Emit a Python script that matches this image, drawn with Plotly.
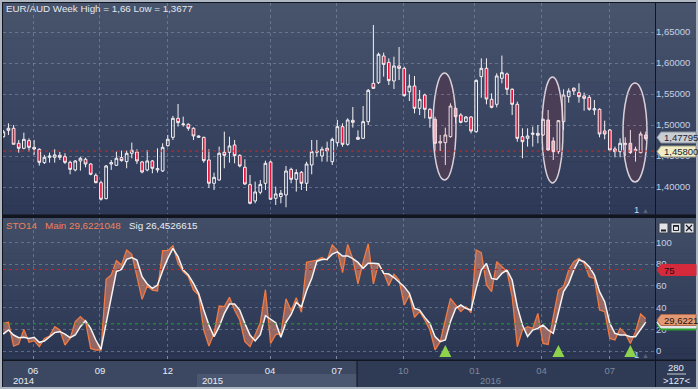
import plotly.graph_objects as go

# ---------------- data ----------------
open_ = [1.4810,1.4914,1.4947,1.4705,1.4624,1.4748,1.4640,1.4608,1.4393,1.4479,
         1.4479,1.4511,1.4490,1.4398,1.4275,1.4420,1.4447,1.4371,1.4189,1.4070,
         1.3812,1.4371,1.4350,1.4474,1.4409,1.4544,1.4565,1.4404,1.4275,1.4420,
         1.4275,1.4259,1.4667,1.4801,1.5108,1.5005,1.5011,1.4947,1.4801,1.4801,
         1.4436,1.4060,1.4113,1.4560,1.4560,1.4678,1.4511,1.4318,1.4038,1.3775,
         1.3915,1.4060,1.4404,1.3818,1.3845,1.3872,1.4285,1.4124,1.4237,1.4060,
         1.4355,1.4560,1.4500,1.4624,1.4409,1.4715,1.4973,1.4688,1.5075,1.4801,
         1.4785,1.5054,1.5672,1.5683,1.6113,1.6011,1.5710,1.5952,1.5914,1.5537,
         1.5629,1.5269,1.5484,1.5253,1.5091,1.4710,1.4715,1.4812,1.5269,1.5161,
         1.5054,1.5129,1.4892,1.5780,1.5914,1.5414,1.5334,1.5753,1.5823,1.5576,
         1.5334,1.4812,1.4785,1.4850,1.4866,1.4839,1.5081,1.4742,1.4570,1.5054,
         1.5457,1.5592,1.5522,1.5468,1.5446,1.5242,1.5253,1.4903,1.4920,1.4613,
         1.4570,1.4683,1.4705,1.4608,1.4554,1.4839]
high = [1.4920,1.5027,1.5000,1.4759,1.4877,1.4785,1.4759,1.4624,1.4517,1.4554,
        1.4608,1.4565,1.4544,1.4425,1.4436,1.4490,1.4474,1.4382,1.4221,1.4103,
        1.4355,1.4436,1.4570,1.4587,1.4587,1.4716,1.4608,1.4420,1.4597,1.4436,
        1.4624,1.4705,1.4839,1.5146,1.5339,1.5135,1.5027,1.4963,1.4828,1.4812,
        1.4608,1.4232,1.4651,1.4893,1.4812,1.4759,1.4527,1.4447,1.4194,1.4087,
        1.4113,1.4425,1.4425,1.4006,1.3952,1.4339,1.4312,1.4285,1.4258,1.4409,
        1.4759,1.4759,1.4651,1.4731,1.4796,1.5081,1.5027,1.5108,1.5290,1.4914,
        1.5306,1.5581,1.6613,1.6167,1.6167,1.6075,1.6102,1.6258,1.5941,1.5817,
        1.5790,1.5564,1.5505,1.5269,1.5134,1.4839,1.4957,1.5350,1.5279,1.5188,
        1.5145,1.5145,1.5736,1.6075,1.6075,1.5511,1.5834,1.6120,1.5844,1.5592,
        1.5377,1.4947,1.4947,1.4974,1.5000,1.5108,1.5242,1.4801,1.5081,1.5576,
        1.5592,1.5608,1.5672,1.5522,1.5484,1.5403,1.5269,1.5070,1.4936,1.4651,
        1.4785,1.4801,1.4920,1.4651,1.4893,1.4893]
low = [1.4800,1.4839,1.4689,1.4554,1.4608,1.4570,1.4517,1.4345,1.4371,1.4393,
       1.4393,1.4436,1.4371,1.4205,1.4253,1.4264,1.4318,1.4189,1.4060,1.3780,
       1.3802,1.4275,1.4339,1.4409,1.4302,1.4463,1.4371,1.4221,1.4253,1.4221,
       1.4232,1.4242,1.4651,1.4759,1.4974,1.4974,1.4909,1.4759,1.4796,1.4393,
       1.3984,1.3952,1.4103,1.4302,1.4393,1.4382,1.4318,1.4033,1.3721,1.3737,
       1.3882,1.3952,1.3791,1.3710,1.3737,1.3673,1.4060,1.3925,1.3952,1.3936,
       1.4205,1.4490,1.4409,1.4409,1.4355,1.4650,1.4650,1.4667,1.4957,1.4758,
       1.4774,1.5000,1.5581,1.5661,1.5780,1.5645,1.5581,1.5726,1.5457,1.5387,
       1.5188,1.5161,1.5107,1.4957,1.4570,1.4580,1.4355,1.4796,1.5027,1.5027,
       1.5043,1.4865,1.4876,1.5441,1.5333,1.5269,1.5285,1.5672,1.5484,1.5162,
       1.4731,1.4463,1.4651,1.4651,1.4705,1.4823,1.4586,1.4436,1.4533,1.4920,
       1.5360,1.5484,1.5360,1.5231,1.5231,1.5162,1.4801,1.4769,1.4570,1.4479,
       1.4479,1.4500,1.4533,1.4409,1.4543,1.4748]
close = [1.4890,1.4947,1.4689,1.4624,1.4769,1.4640,1.4613,1.4398,1.4479,1.4500,
         1.4517,1.4479,1.4398,1.4285,1.4420,1.4463,1.4371,1.4205,1.4070,1.3802,
         1.4339,1.4393,1.4463,1.4425,1.4544,1.4592,1.4420,1.4242,1.4420,1.4302,
         1.4296,1.4640,1.4769,1.5108,1.5038,1.5016,1.4947,1.4823,1.4823,1.4425,
         1.4060,1.4156,1.4544,1.4511,1.4662,1.4506,1.4339,1.4049,1.3737,1.3920,
         1.4043,1.4382,1.3802,1.3888,1.3898,1.4258,1.4124,1.4232,1.4060,1.4371,
         1.4570,1.4581,1.4608,1.4581,1.4769,1.4973,1.4688,1.5081,1.5043,1.4769,
         1.5054,1.5559,1.5591,1.6140,1.5978,1.5715,1.5952,1.5914,1.5473,1.5629,
         1.5269,1.5414,1.5253,1.5107,1.4704,1.4731,1.4839,1.5306,1.5134,1.5043,
         1.5129,1.4903,1.5720,1.5914,1.5419,1.5285,1.5791,1.5844,1.5576,1.5334,
         1.4785,1.4731,1.4823,1.4866,1.4834,1.5092,1.4597,1.4570,1.5070,1.5484,
         1.5549,1.5549,1.5457,1.5430,1.5253,1.5264,1.4855,1.4855,1.4597,1.4570,
         1.4705,1.4705,1.4554,1.4586,1.4855,1.47795]

sto_main = [25.4,26.4,4.6,6.4,19.9,8.0,9.5,4.0,11.6,13.8,
            22.4,19.3,5.5,11.6,27.0,31.6,27.0,2.4,0.9,0.9,
            65.9,69.9,83.1,79.1,92.9,88.9,68.4,47.5,59.8,56.1,
            55.2,92.3,92.3,96.9,80.6,73.0,68.4,56.1,51.5,19.3,
            4.6,16.2,41.4,40.8,49.4,37.7,28.5,8.6,4.0,15.2,
            25.9,56.4,6.9,15.0,15.9,48.0,37.0,49.1,35.6,81.7,
            82.6,83.6,86.1,83.6,97.6,92.3,72.1,98.1,84.7,61.8,
            81.8,98.7,61.8,80.4,71.9,60.2,70.7,65.3,42.3,51.5,
            30.9,36.2,28.5,19.3,1.0,8.6,28.5,48.4,42.3,36.2,
            40.8,35.2,92.9,90.5,60.7,54.6,82.2,77.6,73.0,50.0,
            3.9,19.3,22.4,20.8,34.6,7.0,6.1,31.6,56.1,59.2,
            74.5,82.2,85.2,80.6,68.4,66.8,37.7,36.2,11.6,10.1,
            20.8,16.2,7.0,17.8,34.0,29.6221048]
sto_signal = [15.6,19.3,14.7,12.3,12.6,11.6,12.6,8.0,9.2,13.2,
              16.9,17.8,15.6,12.3,14.7,22.4,27.9,20.8,10.1,1.5,
              25.4,46.3,73.0,75.1,84.3,85.9,83.7,68.4,61.6,57.6,
              60.7,73.9,85.2,94.4,86.8,74.5,69.9,62.2,53.0,37.7,
              23.9,13.2,22.4,34.6,43.2,43.2,37.7,25.4,14.7,9.3,
              15.0,32.5,29.7,26.1,12.6,26.3,33.6,44.7,40.6,55.5,
              66.6,82.6,84.1,84.4,89.1,91.2,87.3,87.5,85.0,81.5,
              76.1,80.8,80.8,80.3,71.4,70.8,67.6,63.8,59.2,53.0,
              39.2,37.7,30.9,25.4,13.2,8.6,10.1,27.0,39.2,42.3,
              39.2,37.7,57.6,74.5,80.6,66.8,65.9,71.4,74.5,65.3,
              40.8,23.9,13.2,19.3,20.8,23.9,19.3,16.2,34.6,54.6,
              62.2,74.5,83.7,82.2,77.6,69.9,54.6,45.4,25.4,16.2,
              14.7,14.7,13.2,13.2,19.9,26.4526615]

month_tick_week = [5.8, 18.8, 32.0, 51.9, 64.9, 77.8, 91.7, 104.7, 118.0]
month_labels = ["06", "09", "12", "04", "07", "10", "01", "04", "07"]
year_labels = ["2014", "2015", "2016"]
year_start_week = [1.5, 38.3, 92.4]
signal_arrow_week = [86, 108, 122]
highlight_weeks = [(84, 88), (105, 109), (121, 125)]
price_ticks = [1.40, 1.45, 1.50, 1.55, 1.60, 1.65]
sto_ticks = [0, 20, 40, 60, 80, 100]
sto_levels = [75, 25]
price_line = 1.458
last_price = 1.47795

weeks = list(range(len(close)))

# ---------------- geometry helpers (pixels -> coords) ----------------
W, H = 698, 389
ML, MR, MT, MB = 3, 43, 3, 30
PX0, PX1, PY0, PY1 = ML, W - MR, MT, H - MB
STEP, X0C = 5.14, 3.3


def xp(px):
    return (px - PX0) / (PX1 - PX0)


def yp(py):
    return (PY1 - py) / (PY1 - PY0)


def xd(px):
    return (px - X0C) / STEP


def pd_(py):
    return 1.55 - (py - 94) / 620.0


def sd(py):
    return (351 - py) / 1.087


UP_TOP, UP_BOT = 3, 214
LO_TOP, LO_BOT = 218, 359

shapes = []
annotations = []


def rect(x0, y0, x1, y1, color, layer="below", line=None):
    shapes.append(dict(type="rect", xref="paper", yref="paper",
                       x0=xp(x0), x1=xp(x1), y0=yp(y1), y1=yp(y0),
                       fillcolor=color, line=line or dict(width=0), layer=layer))


def gradient(x0, y0, x1, y1, c0, c1, n=24):
    h = (y1 - y0) / n
    for i in range(n):
        t = i / (n - 1)
        c = tuple(int(round(a + (b - a) * t)) for a, b in zip(c0, c1))
        rect(x0, y0 + i * h, x1, y0 + (i + 1) * h + 0.6, "rgb(%d,%d,%d)" % c)


def text(px, py, s, color, size=9.5, xanchor="center"):
    annotations.append(dict(xref="paper", yref="paper", x=xp(px), y=yp(py), text=s,
                            showarrow=False, xanchor=xanchor, yanchor="middle",
                            font=dict(size=size, color=color)))


# base frame
rect(2, 2, 696, 387, "#10151f")
gradient(3, UP_TOP, 655, UP_BOT, (72, 84, 108), (45, 57, 87))
gradient(656, UP_TOP, 696, UP_BOT, (72, 84, 108), (45, 57, 87))
gradient(3, LO_TOP, 655, LO_BOT, (66, 78, 103), (43, 54, 83))
gradient(656, LO_TOP, 696, LO_BOT, (66, 78, 103), (43, 54, 83))
# bottom time row
rect(3, 361, 655, 387, "#2f3a55")
rect(3, 361, 357, 387, "#3c4862")
rect(197, 374, 357, 387, "#4b5770")
rect(656, 361, 696, 387, "#2f3a55")
rect(356.5, 361, 357.5, 387, "#10151f")

# highlight ellipses (drawn under the candles)
ell_px = [(433, 73, 456, 180), (542, 77, 563, 183), (623, 83, 647, 182)]
for ex0, ey0, ex1, ey1 in ell_px:
    shapes.append(dict(type="circle", xref="x", yref="y",
                       x0=xd(ex0), x1=xd(ex1), y0=pd_(ey1), y1=pd_(ey0),
                       fillcolor="#4a3e56", line=dict(color="#d9cfd9", width=1.5),
                       layer="below"))

# price reference line
shapes.append(dict(type="line", xref="x domain", yref="y", x0=0, x1=1,
                   y0=price_line, y1=price_line,
                   line=dict(color="#d82020", width=1, dash="3px,3px"), layer="above"))
# stochastic levels
for lv, col in zip(sto_levels, ["#d02020", "#21a52a"]):
    shapes.append(dict(type="line", xref="x", yref="y2", x0=xd(3), x1=weeks[-1],
                       y0=lv, y1=lv, line=dict(color=col, width=1, dash="3px,3px"),
                       layer="above"))


def tag(yc, fill, label, tcolor, border=None, h=11.0):
    x0, x1 = 657, 696
    pts = [(x0, yc), (x0 + 4, yc - h / 2), (x1, yc - h / 2), (x1, yc + h / 2), (x0 + 4, yc + h / 2)]
    path = "M " + " L ".join("%f %f" % (xp(a), yp(b)) for a, b in pts) + " Z"
    shapes.append(dict(type="path", xref="paper", yref="paper", path=path,
                       fillcolor=fill, line=dict(color=border or fill, width=1), layer="above"))
    if label:
        text(662, yc, label, tcolor, xanchor="left")


tag(137.5, "#c9cdd4", "1,47795", "#1c2230", border="#8c929c")
tag(151.5, "#efedc6", "1,45800", "#1c2230", border="#9c9a80")
tag(270, "#d42a3c", "75", "#2a0a0a")
tag(324.5, "#2aa030", None, None)
tag(322.5, "#e6e6ea", None, None)
tag(320, "#e39a74", "29,6221", "#241410", border="#b06a4a")

# close buttons of the indicator window
for bx in [(659, 668), (671, 681), (684, 694)]:
    rect(bx[0], 223, bx[1], 233, "#e2e4e8", layer="above", line=dict(color="#3a404a", width=1))
shapes.append(dict(type="line", xref="paper", yref="paper", x0=xp(661), x1=xp(666),
                   y0=yp(230.5), y1=yp(230.5), line=dict(color="#1a1e26", width=2), layer="above"))
rect(673.5, 225.5, 678.5, 230.5, "rgba(0,0,0,0)", layer="above", line=dict(color="#1a1e26", width=1))
shapes.append(dict(type="line", xref="paper", yref="paper", x0=xp(673.5), x1=xp(678.5),
                   y0=yp(226), y1=yp(226), line=dict(color="#1a1e26", width=1.5), layer="above"))
for (a, b, c, d) in [(686, 225, 692, 231), (686, 231, 692, 225)]:
    shapes.append(dict(type="line", xref="paper", yref="paper", x0=xp(a), x1=xp(c),
                       y0=yp(b), y1=yp(d), line=dict(color="#1a1e26", width=1.2), layer="above"))

# ---------------- texts ----------------
FONT = "Liberation Sans, Arial, sans-serif"
text(4, 8.5, "EUR/AUD Week High = 1,66 Low = 1,3677", "#e4e8ef", size=9.8, xanchor="left")
text(4, 226, "<span style='color:#f0805a'>STO14</span>&nbsp;&nbsp;&nbsp;"
             "<span style='color:#f0805a'>Main 29,6221048</span>&nbsp;&nbsp;&nbsp;"
             "<span style='color:#e8eef6'>Sig 26,4526615</span>", "#e8eef6", size=9.8,
     xanchor="left")
for lbl, wk, col in zip(year_labels, year_start_week, ["#e8ecf2", "#e8ecf2", "#7d889c"]):
    annotations.append(dict(xref="x2", yref="paper", x=wk, y=yp(380), xanchor="left",
                            yanchor="middle", showarrow=False, text=lbl,
                            font=dict(size=9.5, color=col)))
text(676, 367.5, "280", "#e8ecf2")
shapes.append(dict(type="line", xref="paper", yref="paper", x0=xp(667), x1=xp(686),
                   y0=yp(374), y1=yp(374), line=dict(color="#c8ccd4", width=1), layer="above"))
text(676, 380.5, "&gt;127&lt;", "#e8ecf2")
for yy in [209, 354]:
    text(636, yy, "1", "#c9d6ec")
    text(645.5, yy + 1, "▲", "#5c6678", size=7)
for wk in signal_arrow_week:
    annotations.append(dict(xref="x2", yref="y2", x=wk, y=sd(345), text="", showarrow=True,
                            ax=0, ay=13, arrowhead=2, arrowsize=1.1, arrowwidth=2.2,
                            arrowcolor="#8ed34c"))

month_text = []
for lbl, wk in zip(month_labels, month_tick_week):
    col = "#e8ecf2" if wk < xd(357) else "#7d889c"
    month_text.append("<span style='color:%s'>%s</span>" % (col, lbl))

# split candles: normal ones and the ones inside the highlighted zones
in_zone = [any(a <= w <= b for a, b in highlight_weeks) for w in weeks]


def pick(vals, keep):
    return [v if k == keep else None for v, k in zip(vals, in_zone)]


# ---------------- traces ----------------
fig = go.Figure()
fig.add_trace(go.Candlestick(
    x=weeks, open=pick(open_, False), high=pick(high, False), low=pick(low, False),
    close=pick(close, False),
    increasing=dict(line=dict(color="#f4f2f4", width=1), fillcolor="rgba(0,0,0,0)"),
    decreasing=dict(line=dict(color="#f4f2f4", width=1), fillcolor="#e3143c"),
    whiskerwidth=0, xaxis="x", yaxis="y", hoverinfo="skip", showlegend=False))
fig.add_trace(go.Candlestick(
    x=weeks, open=pick(open_, True), high=pick(high, True), low=pick(low, True),
    close=pick(close, True),
    increasing=dict(line=dict(color="#f6dde3", width=1), fillcolor="rgba(0,0,0,0)"),
    decreasing=dict(line=dict(color="#f6dde3", width=1), fillcolor="#eeaab9"),
    whiskerwidth=0, xaxis="x", yaxis="y", hoverinfo="skip", showlegend=False))

fig.add_trace(go.Scatter(x=weeks, y=sto_signal, mode="lines", line=dict(width=0),
                         xaxis="x2", yaxis="y2", hoverinfo="skip", showlegend=False))
fig.add_trace(go.Scatter(x=weeks, y=sto_main, mode="lines",
                         line=dict(color="#f07a42", width=1.3),
                         fill="tonexty", fillcolor="rgba(205,128,108,0.65)",
                         xaxis="x2", yaxis="y2", hoverinfo="skip", showlegend=False))
fig.add_trace(go.Scatter(x=weeks, y=sto_signal, mode="lines",
                         line=dict(color="#f4f4f4", width=1.5),
                         xaxis="x2", yaxis="y2", hoverinfo="skip", showlegend=False))

grid = dict(showgrid=True, gridcolor="rgba(135,148,175,0.55)", gridwidth=1, griddash="3px,3px",
            zeroline=False, showline=False)
xr = [xd(PX0), xd(PX1)]
up_dom = [yp(UP_BOT), 1]
lo_dom = [0, yp(LO_TOP)]

fig.update_layout(
    width=W, height=H, autosize=False,
    margin=dict(l=ML, r=MR, t=MT, b=MB, pad=0),
    paper_bgcolor="#aeb6c2", plot_bgcolor="rgba(0,0,0,0)",
    font=dict(family=FONT, size=9.5, color="#e4e8ef"),
    separators=",.", showlegend=False, hovermode=False,
    xaxis=dict(domain=[0, 1], range=xr, anchor="y", tickvals=month_tick_week,
               showticklabels=False, ticks="", rangeslider=dict(visible=False), **grid),
    xaxis2=dict(domain=[0, 1], range=xr, anchor="y2", matches="x", tickvals=month_tick_week,
                ticktext=month_text, ticks="inside", ticklen=3, tickcolor="#7c88a0",
                tickfont=dict(size=9.5), ticklabelstandoff=4, **grid),
    yaxis=dict(domain=up_dom, range=[pd_(UP_BOT), pd_(UP_TOP)], side="right", anchor="x",
               tickvals=price_ticks, tickformat=".5f", ticks="",
               tickfont=dict(size=9.5, color="#c4d0e4"), **grid),
    yaxis2=dict(domain=lo_dom, range=[sd(LO_BOT), sd(LO_TOP)], side="right", anchor="x2",
                tickvals=sto_ticks, ticks="", tickfont=dict(size=9.5, color="#c4d0e4"), **grid),
    shapes=shapes, annotations=annotations, boxgap=0.25,
)

fig.write_html("out.html", config={"displayModeBar": False},
               post_script="document.body.style.margin='0px';document.body.style.padding='0px';"
                           "document.body.style.overflow='hidden';")
